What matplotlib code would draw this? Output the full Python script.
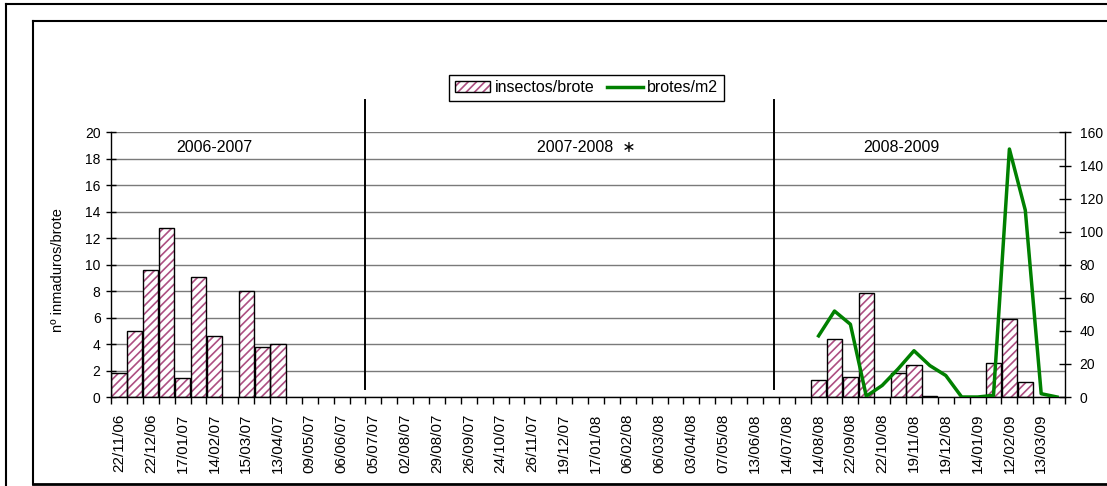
import matplotlib

matplotlib.use("Agg")
import matplotlib.pyplot as plt
import matplotlib.transforms as mtransforms
import numpy as np
from matplotlib.legend_handler import HandlerTuple
from matplotlib.lines import Line2D
from matplotlib.patches import Patch

plt.rcParams["font.family"] = ["Liberation Sans", "DejaVu Sans"]
plt.rcParams["hatch.linewidth"] = 1.2

nan = np.nan

# one label every second sampling date
date_labels = [
    "22/11/06", "22/12/06", "17/01/07", "14/02/07", "15/03/07", "13/04/07",
    "09/05/07", "06/06/07", "05/07/07", "02/08/07", "29/08/07", "26/09/07",
    "24/10/07", "26/11/07", "19/12/07", "17/01/08", "06/02/08", "06/03/08",
    "03/04/08", "07/05/08", "13/06/08", "14/07/08", "14/08/08", "22/09/08",
    "22/10/08", "19/11/08", "19/12/08", "14/01/09", "12/02/09", "13/03/09",
]

# nº inmaduros / brote (left axis), 60 sampling dates
insectos_brote = [
    1.8, 5.0, 9.6, 12.8, 1.4, 9.1, 4.6, nan, 8.0, 3.75,
    4.0, nan, nan, nan, nan, nan, nan, nan, nan, nan,
    nan, nan, nan, nan, nan, nan, nan, nan, nan, nan,
    nan, nan, nan, nan, nan, nan, nan, nan, nan, nan,
    nan, nan, nan, nan, 1.3, 4.4, 1.5, 7.9, nan, 1.8,
    2.4, 0.1, nan, nan, nan, 2.6, 5.9, 1.1, nan, nan,
]

# brotes / m2 (right axis)
brotes_m2 = [
    nan, nan, nan, nan, nan, nan, nan, nan, nan, nan,
    nan, nan, nan, nan, nan, nan, nan, nan, nan, nan,
    nan, nan, nan, nan, nan, nan, nan, nan, nan, nan,
    nan, nan, nan, nan, nan, nan, nan, nan, nan, nan,
    nan, nan, nan, nan, 37, 52, 44, 0.5, 7, 17,
    28, 19, 13, 0, 0, 1, 150, 113, 2, 0,
]

seasons = ["2006-2007", "2007-2008  \u2217", "2008-2009"]
season_x = [6.0, 29.4, 49.2]
season_breaks = [15.5, 41.2]

HATCH = "#ad4f82"
GREEN = "#008000"
GRID = "#7a7a7a"

ins = np.asarray(insectos_brote, dtype=float)
bro = np.asarray(brotes_m2, dtype=float)
n = len(ins)
x = np.arange(n)
has_bar = ~np.isnan(ins)

fig = plt.figure(figsize=(11.07, 4.86), dpi=100)
ax = fig.add_axes([0.1003, 0.1831, 0.8618, 0.5443])

ax.bar(x[has_bar], ins[has_bar], width=0.95, color="white", edgecolor=HATCH,
       hatch="////", lw=0, zorder=2)
ax.bar(x[has_bar], ins[has_bar], width=0.95, color="none", edgecolor="black",
       lw=1.0, zorder=3)

ax.set_xlim(-0.5, n - 0.5)
ax.set_ylim(0, 20)
ax.set_yticks(np.arange(0, 21, 2))
ax.yaxis.grid(True, color=GRID, lw=1.0)
ax.set_axisbelow(True)
ax.set_ylabel("nº inmaduros/brote", fontsize=10.5)
ax.yaxis.set_label_coords(-0.048, 0.48)

# ticks between categories, labels on every other category
ax.set_xticks(np.arange(-0.5, n, 1.0))
ax.set_xticklabels([])
ax.set_xticks(x[::2], minor=True)
ax.set_xticklabels(date_labels, minor=True, rotation=90, fontsize=11)
ax.tick_params(axis="x", which="major", direction="out", length=5, width=1)
ax.tick_params(axis="x", which="minor", length=0, pad=12)
ax.tick_params(axis="y", direction="inout", length=7, width=1, labelsize=10, pad=4)

for side in ("top", "right"):
    ax.spines[side].set_visible(False)
ax.spines["left"].set_linewidth(1.0)
ax.spines["bottom"].set_linewidth(1.0)

ax2 = ax.twinx()
ax2.plot(x, bro, color=GREEN, lw=2.5, zorder=4)
ax2.set_ylim(0, 160)
ax2.set_yticks(np.arange(0, 161, 20))
ax2.tick_params(axis="y", direction="inout", length=9, width=1, labelsize=10, pad=6)
ax2.spines["top"].set_visible(False)
ax2.spines["left"].set_visible(False)
ax2.spines["bottom"].set_visible(False)
ax2.spines["right"].set_linewidth(1.0)

trans = mtransforms.blended_transform_factory(ax.transData, ax.transAxes)
for xb in season_breaks:
    ax.plot([xb, xb], [0.03, 1.123], transform=trans, color="black", lw=1.4,
            clip_on=False, zorder=5)
for label, xs in zip(seasons, season_x):
    ax.text(xs, 0.9425, label, transform=trans, ha="center", va="center",
            fontsize=11.5)

bar_handle = (Patch(facecolor="white", edgecolor=HATCH, hatch="////", lw=0),
              Patch(facecolor="none", edgecolor="black", lw=1.0))
line_handle = Line2D([], [], color=GREEN, lw=2.5)
leg = fig.legend([bar_handle, line_handle], ["insectos/brote", "brotes/m2"],
                 loc="center", bbox_to_anchor=(0.530, 0.819), ncol=2,
                 fancybox=False, edgecolor="black", framealpha=1,
                 handler_map={tuple: HandlerTuple(ndivide=1)},
                 fontsize=11.5, handlelength=2.2, handleheight=0.7,
                 columnspacing=0.8, handletextpad=0.3, borderpad=0.35)
leg.get_frame().set_linewidth(1.0)


def px_line(x0, y0, x1, y1, lw):
    W, H = 1107.0, 486.0
    fig.add_artist(Line2D([x0 / W, x1 / W], [1 - y0 / H, 1 - y1 / H],
                          color="black", lw=lw))


# outer and inner chart frames
px_line(5.5, 4.5, 1107, 4.5, 1.5)
px_line(5.5, 4.5, 5.5, 486, 1.5)
px_line(32.5, 21.5, 1107, 21.5, 1.5)
px_line(32.5, 21.5, 32.5, 484, 1.5)
px_line(32.5, 484, 1107, 484, 2.0)

fig.savefig("out.png", dpi=100)
